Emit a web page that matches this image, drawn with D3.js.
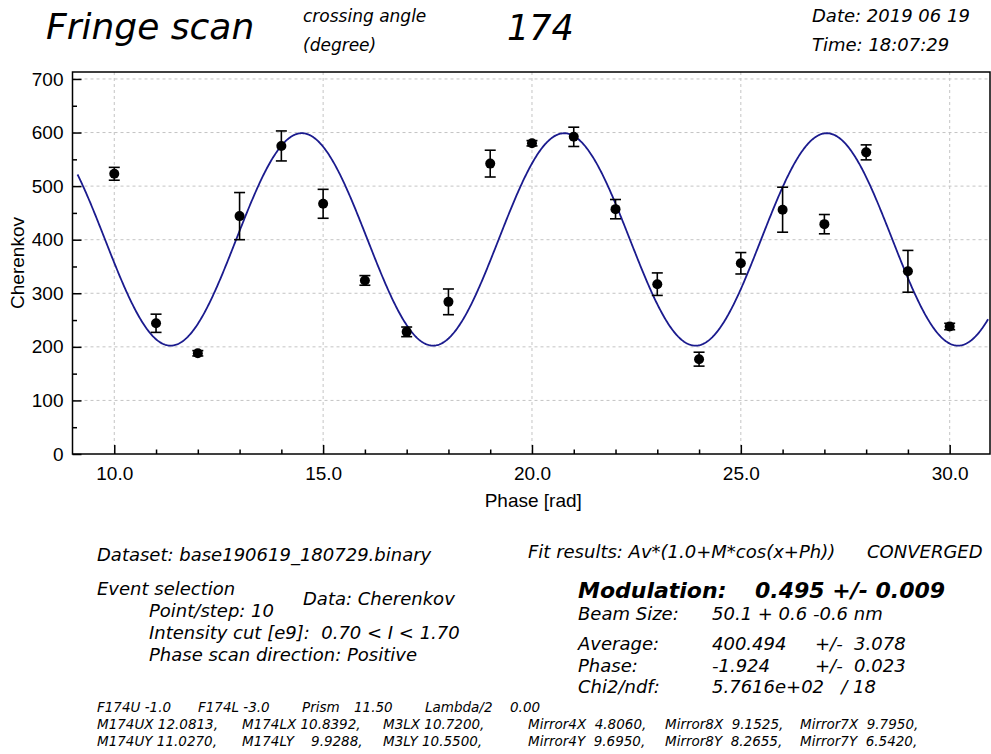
<!DOCTYPE html>
<html>
<head>
<meta charset="utf-8">
<script src="https://cdn.jsdelivr.net/npm/d3@7"></script>
<style>
  html, body { margin: 0; padding: 0; background: #fff; }
  svg { display: block; }
  .it { font-family: "DejaVu Sans", sans-serif; font-style: italic; fill: #000; white-space: pre; }
  .ax { font-family: "Liberation Sans", Arial, sans-serif; fill: #000; }
</style>
</head>
<body>
<svg id="chart" width="991" height="754"></svg>
<script>
// Scan points: phase step and measured Cherenkov signal with its error
const phase = [10, 11, 12, 13, 14, 15, 16, 17, 18, 19, 20, 21, 22, 23, 24, 25, 26, 27, 28, 29, 30];
const cherenkov = [523, 244, 188, 444, 575, 467, 324, 228, 284, 542, 580, 592, 457, 317, 177, 356, 456, 429, 563, 341, 238];
const cherenkovErr = [12, 17, 5, 44, 28, 27, 9, 9, 24, 25, 5, 18, 18, 21, 13, 20, 42, 18, 14, 39, 6];

// Fit result: Av*(1.0+M*cos(x+Ph))
const fitAverage = 400.494;
const fitModulation = 0.495;
const fitPhase = -1.924;
const fitRange = [9.12, 30.92];

// Axis ticks
const xMajorTicks = [10, 15, 20, 25, 30];
const xMinorTicks = [11, 12, 13, 14, 16, 17, 18, 19, 21, 22, 23, 24, 26, 27, 28, 29];
const yMajorTicks = [0, 100, 200, 300, 400, 500, 600, 700];
const yMinorTicks = [50, 150, 250, 350, 450, 550, 650];

const svg = d3.select("#chart");

const frame = { left: 72.5, right: 990, top: 72, bottom: 454 };
const x = d3.scaleLinear().domain([9, 30.965]).range([frame.left, frame.right]);
const y = d3.scaleLinear().domain([0, 713]).range([frame.bottom, frame.top]);

// grid
const grid = svg.append("g").attr("stroke", "#c4c4c4").attr("stroke-width", 1).attr("stroke-dasharray", "3,3");
grid.selectAll("line.gx").data(xMajorTicks).join("line")
  .attr("x1", d => x(d)).attr("x2", d => x(d))
  .attr("y1", frame.top).attr("y2", frame.bottom);
grid.selectAll("line.gy").data(yMajorTicks.filter(d => d > 0)).join("line")
  .attr("x1", frame.left).attr("x2", frame.right)
  .attr("y1", d => y(d)).attr("y2", d => y(d));

// axes with inward ticks
function styleAxis(g) {
  g.select(".domain").remove();
  g.selectAll(".tick line").attr("stroke", "#000").attr("stroke-width", 1.5);
  g.selectAll(".tick text").attr("class", "ax").attr("font-size", 19).attr("fill", "#000");
}
svg.append("g").attr("transform", `translate(0,${frame.bottom})`)
  .call(d3.axisBottom(x).tickValues(xMajorTicks).tickSize(-9).tickSizeOuter(0).tickPadding(13).tickFormat(d3.format(".1f")))
  .call(styleAxis).attr("font-family", null).attr("font-size", null);
svg.append("g").attr("transform", `translate(0,${frame.bottom})`)
  .call(d3.axisBottom(x).tickValues(xMinorTicks).tickSize(-4.5).tickSizeOuter(0).tickFormat(""))
  .call(styleAxis);
svg.append("g").attr("transform", `translate(${frame.left},0)`)
  .call(d3.axisLeft(y).tickValues(yMajorTicks).tickSize(-9).tickSizeOuter(0).tickPadding(9).tickFormat(d3.format("d")))
  .call(styleAxis).attr("font-family", null).attr("font-size", null);
svg.append("g").attr("transform", `translate(${frame.left},0)`)
  .call(d3.axisLeft(y).tickValues(yMinorTicks).tickSize(-4.5).tickSizeOuter(0).tickFormat(""))
  .call(styleAxis);

// frame
svg.append("rect")
  .attr("x", frame.left).attr("y", frame.top)
  .attr("width", frame.right - frame.left).attr("height", frame.bottom - frame.top)
  .attr("fill", "none").attr("stroke", "#000").attr("stroke-width", 1.5);

// fit curve
const fitFn = v => fitAverage * (1.0 + fitModulation * Math.cos(v + fitPhase));
const curveX = d3.range(fitRange[0], fitRange[1], 0.02).concat([fitRange[1]]);
svg.append("path")
  .datum(curveX)
  .attr("fill", "none").attr("stroke", "#1b1b8e").attr("stroke-width", 1.8)
  .attr("d", d3.line().x(d => x(d)).y(d => y(fitFn(d))));

// data points with error bars
const pts = phase.map((p, i) => ({ p, v: cherenkov[i], e: cherenkovErr[i] }));
const eb = svg.append("g").attr("stroke", "#000").attr("stroke-width", 1.6);
eb.selectAll("line.v").data(pts).join("line")
  .attr("x1", d => x(d.p)).attr("x2", d => x(d.p))
  .attr("y1", d => y(d.v + d.e)).attr("y2", d => y(d.v - d.e));
eb.selectAll("line.t").data(pts).join("line")
  .attr("x1", d => x(d.p) - 5.5).attr("x2", d => x(d.p) + 5.5)
  .attr("y1", d => y(d.v + d.e)).attr("y2", d => y(d.v + d.e));
eb.selectAll("line.b").data(pts).join("line")
  .attr("x1", d => x(d.p) - 5.5).attr("x2", d => x(d.p) + 5.5)
  .attr("y1", d => y(d.v - d.e)).attr("y2", d => y(d.v - d.e));
svg.append("g").selectAll("circle").data(pts).join("circle")
  .attr("cx", d => x(d.p)).attr("cy", d => y(d.v)).attr("r", 5).attr("fill", "#000");

// axis titles
svg.append("text").attr("class", "ax").attr("font-size", 19)
  .attr("text-anchor", "middle").attr("x", (x(9) + x(30.965)) / 2 + 2).attr("y", 507)
  .text("Phase [rad]");
svg.append("text").attr("class", "ax").attr("font-size", 19)
  .attr("text-anchor", "middle")
  .attr("transform", "translate(24,263) rotate(-90)")
  .text("Cherenkov");

// header and fit summary text
function label(txt, px, py, size, weight) {
  svg.append("text").attr("class", "it")
    .attr("x", px).attr("y", py).attr("font-size", size)
    .attr("font-weight", weight || "normal")
    .text(txt);
}
label("Fringe scan", 46, 39, 36);
label("crossing angle", 303, 22, 17);
label("(degree)", 303, 51, 17);
label("174", 507, 40, 35);
label("Date: 2019 06 19", 812, 22, 18);
label("Time: 18:07:29", 812, 51, 18);

label("Dataset: base190619_180729.binary", 97, 561, 18);
label("Event selection", 97, 595, 18);
label("Data: Cherenkov", 303, 605, 18);
label("Point/step: 10", 149, 617, 18);
label("Intensity cut [e9]:  0.70 < I < 1.70", 149, 639, 18);
label("Phase scan direction: Positive", 149, 661, 18);

label("Fit results: Av*(1.0+M*cos(x+Ph))", 528, 558, 18);
label("CONVERGED", 867, 558, 18);
label("Modulation:", 578, 598, 22, "bold");
label(`${fitModulation.toFixed(3)} +/- 0.009`, 755, 598, 22, "bold");
label("Beam Size:", 578, 620, 18);
label("50.1 + 0.6 -0.6 nm", 712, 620, 18);
label("Average:", 578, 650, 18);
label(fitAverage.toFixed(3), 712, 650, 18);
label("+/-  3.078", 815, 650, 18);
label("Phase:", 578, 672, 18);
label(fitPhase.toFixed(3), 712, 672, 18);
label("+/-  0.023", 815, 672, 18);
label("Chi2/ndf:", 578, 693, 18);
label("5.7616e+02   / 18", 712, 693, 18);

// device settings
const devRow1 = [["F174U -1.0", 97], ["F174L -3.0", 198], ["Prism", 302], ["11.50", 354], ["Lambda/2", 425], ["0.00", 510]];
const devRow2 = [["M174UX 12.0813,", 97], ["M174LX 10.8392,", 242], ["M3LX 10.7200,", 383], ["Mirror4X  4.8060,", 528], ["Mirror8X  9.1525,", 665], ["Mirror7X  9.7950,", 800]];
const devRow3 = [["M174UY 11.0270,", 97], ["M174LY    9.9288,", 242], ["M3LY 10.5500,", 383], ["Mirror4Y  9.6950,", 528], ["Mirror8Y  8.2655,", 665], ["Mirror7Y  6.5420,", 800]];
[[devRow1, 712], [devRow2, 729], [devRow3, 746]].forEach(([row, py]) => {
  row.forEach(([t, px]) => label(t, px, py, 13.5));
});
</script>
</body>
</html>
